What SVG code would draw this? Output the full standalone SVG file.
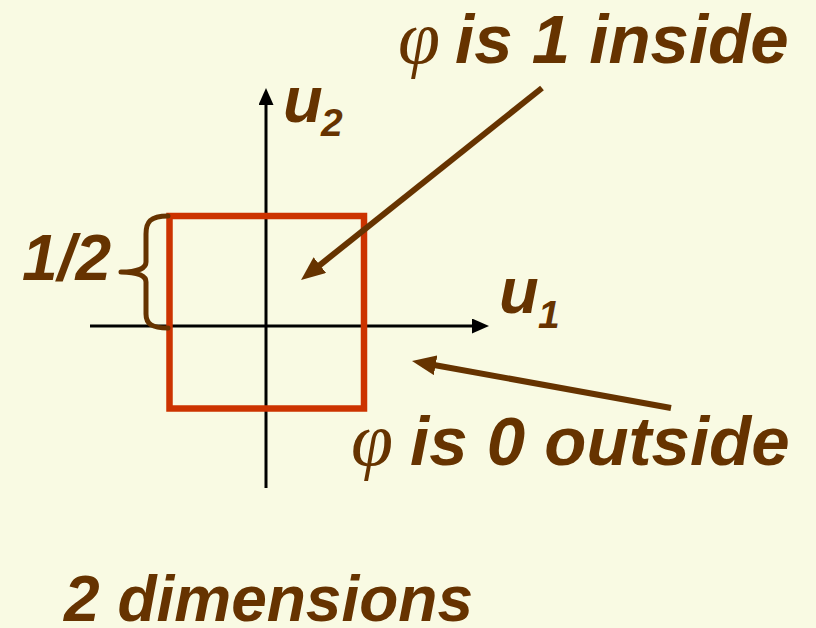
<svg xmlns="http://www.w3.org/2000/svg" width="816" height="628" viewBox="0 0 816 628">
<defs>
<style>
.lbl{font-family:"Liberation Sans",Arial,sans-serif;font-weight:bold;font-style:italic;fill:#663300}
.phi{font-family:"Liberation Serif","Times New Roman",serif;font-style:italic;fill:#663300}
.axis{stroke:#000;stroke-width:3;fill:none}
.ptr{stroke:#663300;stroke-width:6;fill:none}
</style>
<marker id="ah" markerUnits="userSpaceOnUse" viewBox="0 0 17 15" refX="5" refY="7.5" markerWidth="17" markerHeight="15" orient="auto"><path d="M0,0 L17,7.5 L0,15 z" fill="#000"/></marker>
<marker id="bh" markerUnits="userSpaceOnUse" viewBox="0 0 24 20" refX="10" refY="10" markerWidth="24" markerHeight="20" orient="auto"><path d="M0,0 L24,10 L0,20 z" fill="#663300"/></marker>
</defs>
<rect x="0" y="0" width="816" height="628" fill="#F9FAE3"/>
<g id="axes">
<line class="axis" x1="266" y1="488" x2="266" y2="100" marker-end="url(#ah)"/>
<line class="axis" x1="90" y1="326" x2="477" y2="326" marker-end="url(#ah)"/>
</g>
<g id="square">
<rect x="169.5" y="216" width="194.5" height="192.5" fill="none" stroke="#CC3300" stroke-width="6.5"/>
</g>
<g id="brace">
<path d="M168,216 C150,216 146,222 146,234 L146,262 C146,268 138,272 121,272 C138,272 146,276 146,282 L146,314 C146,324 152,328 168,328" fill="none" stroke="#663300" stroke-width="5" stroke-linecap="round" stroke-linejoin="round"/>
</g>
<g id="connectors">
<line class="ptr" x1="542" y1="88" x2="312" y2="271.3" marker-end="url(#bh)"/>
<line class="ptr" x1="671" y1="408" x2="425.8" y2="363.5" marker-end="url(#bh)"/>
</g>
<g id="label-u2">
<text class="lbl" x="283" y="122" font-size="65">u</text>
<text class="lbl" x="321" y="136" font-size="39">2</text>
</g>
<g id="label-u1">
<text class="lbl" x="499" y="313" font-size="65">u</text>
<text class="lbl" x="538" y="328" font-size="39">1</text>
</g>
<g id="label-half">
<text class="lbl" x="22" y="280" font-size="64">1/2</text>
</g>
<g id="label-inside">
<text class="phi" x="398" y="63" font-size="76">φ</text>
<text class="lbl" x="455" y="63" font-size="69">is 1 inside</text>
</g>
<g id="label-outside">
<text class="phi" x="351" y="465" font-size="76">φ</text>
<text class="lbl" x="410" y="465" font-size="69">is 0 outside</text>
</g>
<g id="label-dim">
<text class="lbl" x="64" y="621" font-size="64">2 dimensions</text>
</g>
</svg>
